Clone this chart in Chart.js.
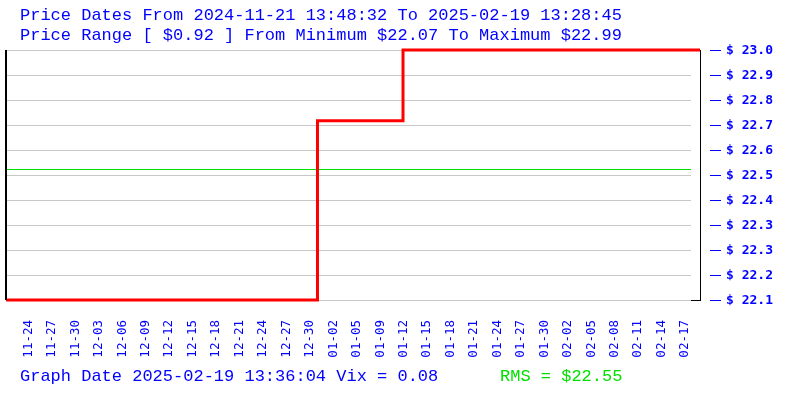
<!DOCTYPE html>
<html><head><meta charset="utf-8">
<script src="https://cdn.jsdelivr.net/npm/chart.js@4"></script>
<style>html,body{margin:0;padding:0;background:#fff}#wrap{width:800px;height:400px}</style>
</head><body><div id="wrap"><canvas id="c" width="800" height="400"></canvas></div>
<script>
const titleLines = [
  "Price Dates From 2024-11-21 13:48:32 To 2025-02-19 13:28:45",
  "Price Range [ $0.92 ] From Minimum $22.07 To Maximum $22.99"
];
const footerText = "Graph Date 2025-02-19 13:36:04 Vix = 0.08";
const rmsText = "RMS = $22.55";

// days since 2024-11-21 13:48:32
const stepDays = [0, 40.39, 51.48, 89.99];
const stepPrices = [22.07, 22.73, 22.99, 22.99];
const rmsValue = 22.55;
const priceMin = 22.07;
const priceMax = 22.99;
const dayMax = 89.99;

const yTickLabels = ["$ 22.1","$ 22.2","$ 22.3","$ 22.3","$ 22.4","$ 22.5","$ 22.6","$ 22.7","$ 22.8","$ 22.9","$ 23.0"];
const xTickDays = [2.92,5.96,9.00,12.04,15.08,18.12,21.16,24.20,27.24,30.28,33.32,36.36,39.41,42.45,45.49,48.53,51.57,54.61,57.65,60.69,63.73,66.77,69.81,72.85,75.90,78.94,81.98,85.02,88.06];
const xTickLabels = ["11-24","11-27","11-30","12-03","12-06","12-09","12-12","12-15","12-18","12-21","12-24","12-27","12-30","01-02","01-05","01-09","01-12","01-15","01-18","01-21","01-24","01-27","01-30","02-02","02-05","02-08","02-11","02-14","02-17"];

const BLUE = '#0000ff';
const GREEN = '#00e000';

const yTickValues = yTickLabels.map((_, i) => priceMin + (priceMax - priceMin) * i / (yTickLabels.length - 1));

const decor = {
  id: 'decor',
  beforeDatasetsDraw(chart) {
    const {ctx, chartArea: a, scales: {y}} = chart;
    ctx.save();
    ctx.strokeStyle = '#c8c8c8';
    ctx.lineWidth = 1;
    y.ticks.forEach(t => {
      const py = Math.round(y.getPixelForValue(t.value)) + 0.5;
      ctx.beginPath(); ctx.moveTo(a.left + 1, py); ctx.lineTo(a.right - 9, py); ctx.stroke();
    });
    ctx.strokeStyle = GREEN;
    const ry = Math.round(y.getPixelForValue(rmsValue)) - 0.5;
    ctx.beginPath(); ctx.moveTo(a.left + 1, ry); ctx.lineTo(a.right - 9, ry); ctx.stroke();
    ctx.restore();
  },
  afterDraw(chart) {
    const {ctx, chartArea: a, scales: {y}} = chart;
    ctx.save();
    // left border
    ctx.fillStyle = '#000';
    ctx.fillRect(a.left - 1, a.top, 2, a.bottom - a.top);
    // bottom-right tick
    ctx.fillRect(a.right - 9, Math.round(a.bottom), 10, 1);
    // blue dashes next to the price labels
    ctx.fillStyle = BLUE;
    y.ticks.forEach(t => {
      const py = Math.round(y.getPixelForValue(t.value));
      ctx.fillRect(a.right + 10, py, 11, 1);
    });
    // texts
    ctx.font = '17px "Liberation Mono"';
    ctx.textBaseline = 'alphabetic';
    ctx.textAlign = 'left';
    ctx.fillStyle = BLUE;
    ctx.fillText(titleLines[0], 20, 20);
    ctx.fillText(titleLines[1], 20, 40);
    ctx.fillText(footerText, 20, 381);
    ctx.fillStyle = GREEN;
    ctx.fillText(rmsText, 500, 381);
    ctx.restore();
  }
};

new Chart(document.getElementById('c'), {
  type: 'line',
  data: {
    datasets: [{
      data: stepDays.map((d, i) => ({x: d, y: stepPrices[i]})),
      borderColor: '#ff0000',
      borderWidth: 3,
      stepped: true,
      pointRadius: 0,
      fill: false,
      clip: 4,
      borderJoinStyle: 'miter'
    }]
  },
  options: {
    responsive: false,
    animation: false,
    devicePixelRatio: 1,
    layout: {padding: {top: 50, left: 6, right: 0, bottom: 0}},
    plugins: {legend: {display: false}, tooltip: {enabled: false}, title: {display: false}},
    scales: {
      x: {
        type: 'linear',
        min: 0,
        max: dayMax,
        afterBuildTicks: s => { s.ticks = xTickDays.map(v => ({value: v})); },
        afterFit: s => { s.height = 100; },
        grid: {display: false, drawTicks: false},
        border: {display: false},
        ticks: {
          autoSkip: false,
          minRotation: 90,
          maxRotation: 90,
          padding: 20,
          color: BLUE,
          font: {family: '"DejaVu Sans Mono"', size: 12.5},
          callback: (v, i) => xTickLabels[i]
        }
      },
      y: {
        type: 'linear',
        position: 'right',
        min: priceMin,
        max: priceMax,
        afterBuildTicks: s => { s.ticks = yTickValues.map(v => ({value: v})); },
        afterFit: s => { s.width = 100; },
        grid: {display: false, drawTicks: false},
        border: {display: true, color: '#000', width: 1},
        ticks: {
          padding: 26,
          labelOffset: 1,
          color: BLUE,
          font: {family: '"DejaVu Sans Mono"', size: 13, weight: 'bold'},
          callback: (v, i) => yTickLabels[i]
        }
      }
    }
  },
  plugins: [decor]
});
</script>
</body></html>
